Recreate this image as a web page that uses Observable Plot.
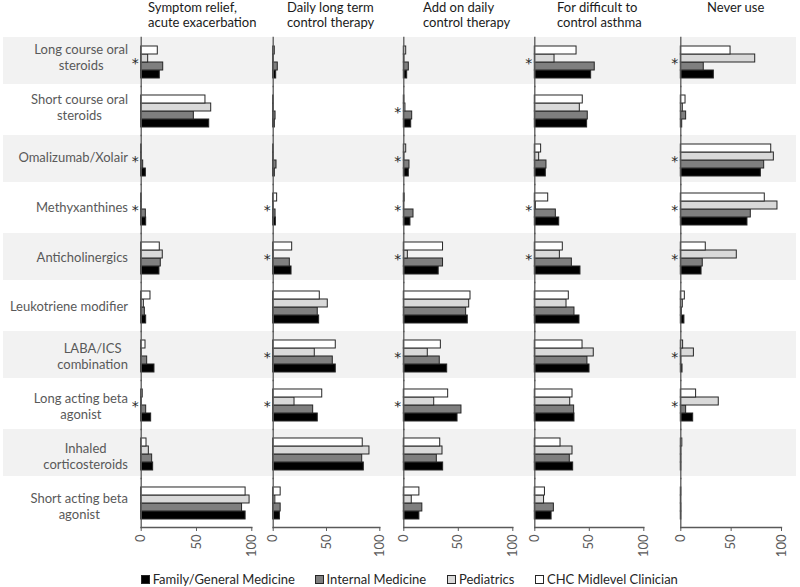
<!DOCTYPE html>
<html><head><meta charset="utf-8">
<script src="https://cdn.jsdelivr.net/npm/d3@7"></script>
<script src="https://cdn.jsdelivr.net/npm/@observablehq/plot@0.6"></script>
<style>
body{margin:0;background:#fff;font-family:Lato,"Open Sans",sans-serif;}
#root{position:relative;width:800px;height:587px;overflow:hidden;}
.abs{position:absolute;}
.title{position:absolute;top:0;font-size:13px;line-height:15px;color:#1a1a1a;white-space:pre;}
.rowlab{position:absolute;left:0;width:128px;display:flex;align-items:center;justify-content:flex-end;}
.rowlab span{text-align:center;font-size:13px;line-height:16px;color:#595959;white-space:pre;}
.leg{position:absolute;top:571px;display:flex;align-items:center;font-size:13px;color:#262626;white-space:nowrap;}
.leg i{display:inline-block;width:7px;height:7px;border:1px solid #262626;margin-right:3px;}
</style></head>
<body><div id="root"></div>
<script>
// ---- data ----
const drugs = ["Long course oral\nsteroids","Short course oral\nsteroids","Omalizumab/Xolair","Methyxanthines","Anticholinergics","Leukotriene modifier","LABA/ICS\ncombination","Long acting beta\nagonist","Inhaled\ncorticosteroids","Short acting beta\nagonist"];
const series = ["Family/General Medicine","Internal Medicine","Pediatrics","CHC Midlevel Clinician"];
const purposes = ["Symptom relief,\nacute exacerbation","Daily long term\ncontrol therapy","Add on daily\ncontrol therapy","For difficult to\ncontrol asthma","Never use"];
const xTicks = [0, 50, 100];
// rows follow drugs; columns follow series [Family, Internal, Pediatrics, CHC]
const symptomRelief = [[16.8,19.9,6.3,15],[61.5,47.6,63.3,58.1],[4.2,1.8,0.5,0.5],[4.5,4.2,0.5,0.5],[16.5,17.7,19.5,16.8],[4.5,3.3,2.4,8.4],[12,5.4,0.5,3.9],[9,4.5,0.5,1.4],[10.8,9.9,6.9,4.8],[94.4,91.2,98,94.4]];
const dailyControl = [[2.8,4.3,0.5,1.5],[1.5,2.2,0.5,0.5],[1.5,3.1,0.5,0.5],[2.5,2.2,0.3,3.7],[17.2,15.6,0.5,17.8],[43.1,41.8,51.2,43.7],[58.7,55.9,39,58.7],[41.8,37.5,20,46],[85,83.5,90.3,84],[6.3,7,2,7]];
const addOnControl = [[3.1,4.6,0.5,2.2],[6.8,7.7,1.5,0.5],[4.6,5.2,0.5,2.2],[6.1,8.9,0.3,0.8],[32,36,3.7,36],[58.7,57.2,60,61.2],[39.8,33,22,34],[49.3,52.9,27.9,40.7],[36.1,30.3,35.5,33.4],[14.3,17,7.3,14.3]];
const difficultAsthma = [[51.7,55,18.1,38.3],[48,48.6,41.3,44],[10.1,10.7,4,5.8],[22.4,19.3,1,12.3],[41.9,34,23,25.7],[41,36.4,29.1,31.2],[50.2,48.3,54.1,43.8],[36.4,36.1,32.5,34.6],[35.2,32.1,34.6,23.6],[15.4,17.5,8.5,9.3]];
const neverUse = [[32.8,22.8,73.9,49.4],[1.4,5.3,2,4.7],[79.5,82.8,92.4,89.8],[66.2,69.5,96,83.4],[20.6,21.8,55.6,24.8],[3.6,1,2,4],[1.7,0.5,13,2.3],[12.3,5.3,37.7,15.2],[0.5,0.5,0.5,1.5],[0.5,0.5,0.3,0.5]];
// significance markers (*) by row index
const starsSymptom = [0,2,3,7];
const starsDaily = [3,4,6,7];
const starsAddOn = [1,2,3,4,6,7];
const starsDifficult = [0,3,4];
const starsNever = [0,2,3,4,6,7];

const panelValues = [symptomRelief, dailyControl, addOnControl, difficultAsthma, neverUse];
const panelStars = [starsSymptom, starsDaily, starsAddOn, starsDifficult, starsNever];

// ---- layout ----
const axisX = [140.7, 272.7, 403.3, 534.3, 680.3];
const panelW = [110.6, 106.6, 109, 109, 100.7];
const titleX = [148, 287, 423, 557, 707];
const TOP = 32, ROWS_H = 499;
const fills = ["#000000", "#7f7f7f", "#d9d9d9", "#ffffff"];
const seriesTopDown = series.slice().reverse();

const root = document.getElementById("root");

// background bands
const shaded = drugs.filter((d, i) => i % 2 === 0);
const bg = Plot.plot({
  width: 800, height: TOP + ROWS_H, marginTop: TOP, marginBottom: 0, marginLeft: 3, marginRight: 4,
  style: {background: "transparent"},
  x: {domain: [0, 1], axis: null},
  y: {domain: drugs, axis: null, padding: 0.04},
  marks: [Plot.barX(shaded, {y: d => d, x: () => 1, fill: "#f2f2f2"})]
});
bg.classList.add("abs"); bg.style.left = "0px"; bg.style.top = "0px";
root.appendChild(bg);

// row labels
const rowH = ROWS_H / drugs.length;
drugs.forEach((d, i) => {
  const div = document.createElement("div");
  div.className = "rowlab";
  div.style.top = (TOP + i * rowH) + "px";
  div.style.height = rowH + "px";
  const sp = document.createElement("span");
  sp.textContent = d;
  div.appendChild(sp);
  root.appendChild(div);
});

// titles
purposes.forEach((t, i) => {
  const div = document.createElement("div");
  div.className = "title";
  div.style.left = titleX[i] + "px";
  div.textContent = t;
  root.appendChild(div);
});

// panels
panelValues.forEach((vals, p) => {
  const data = [];
  drugs.forEach((d, r) => series.forEach((s, k) => data.push({drug: d, series: s, value: vals[r][k]})));
  const left = Math.floor(axisX[p]) - 16;
  const mL = axisX[p] - left, mR = 12;
  const chart = Plot.plot({
    width: mL + panelW[p] + mR, height: TOP + ROWS_H + 38,
    marginTop: TOP, marginBottom: 38, marginLeft: mL, marginRight: mR,
    style: {background: "transparent", fontFamily: "Lato, sans-serif", fontSize: "12.5px", color: "#595959", overflow: "visible"},
    x: {domain: [0, 100], axis: null},
    y: {domain: seriesTopDown, axis: null, paddingInner: 0, paddingOuter: 0.93},
    fy: {domain: drugs, axis: null, padding: 0},
    color: {domain: series, range: fills},
    marks: [
      Plot.barX(data, {fy: "drug", y: "series", x: "value", fill: "series", stroke: "#262626", strokeWidth: 1}),
      Plot.frame({anchor: "left", stroke: "#595959", strokeWidth: 1.3}),
      Plot.frame({anchor: "bottom", facetAnchor: "bottom", stroke: "#595959", strokeWidth: 1.3}),
      Plot.axisX({ticks: xTicks, tickRotate: -90, tickSize: 4, tickPadding: 3, stroke: "#595959", fill: "#595959", fontSize: 13, label: null}),
      Plot.text(panelStars[p].map(i => drugs[i]), {fy: d => d, x: () => 0, text: () => "*", dx: -6, dy: 2, fontSize: 14, fontFamily: "DejaVu Sans", fill: "#262626"})
    ]
  });
  chart.classList.add("abs");
  chart.style.left = left + "px";
  chart.style.top = "0px";
  root.appendChild(chart);
});

// legend
const legX = [140.7, 314.5, 447, 535];
series.forEach((s, k) => {
  const div = document.createElement("div");
  div.className = "leg";
  div.style.left = legX[k] + "px";
  const sw = document.createElement("i");
  sw.style.background = fills[k];
  div.appendChild(sw);
  div.appendChild(document.createTextNode(s));
  root.appendChild(div);
});
</script></body></html>
